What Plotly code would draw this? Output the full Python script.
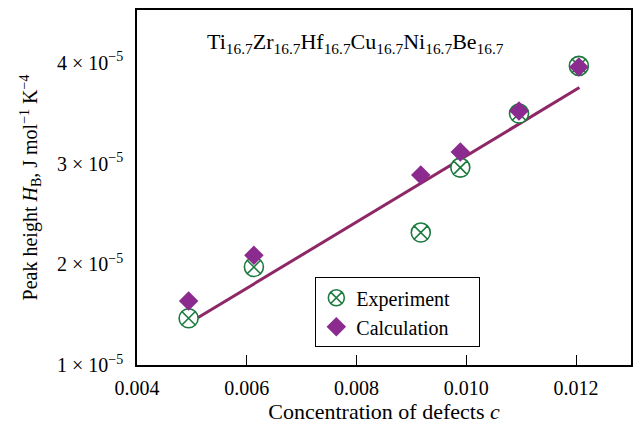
import plotly.graph_objects as go

# Concentration of defects c
c_exp = [0.00494, 0.00613, 0.00917, 0.00989, 0.01096, 0.01205]
h_exp = [1.464e-5, 1.973e-5, 2.315e-5, 2.960e-5, 3.497e-5, 3.970e-5]

c_calc = [0.00494, 0.00613, 0.00917, 0.00989, 0.01096, 0.01205]
h_calc = [1.636e-5, 2.089e-5, 2.887e-5, 3.115e-5, 3.523e-5, 3.960e-5]

# Linear fit line endpoints
c_fit = [0.00494, 0.01206]
h_fit = [1.414e-5, 3.755e-5]

y_ticks = [1e-5, 2e-5, 3e-5, 4e-5]
y_tick_text = ["1 × 10<sup>−5</sup>", "2 × 10<sup>−5</sup>",
               "3 × 10<sup>−5</sup>", "4 × 10<sup>−5</sup>"]
x_ticks = [0.004, 0.006, 0.008, 0.010, 0.012]
x_tick_text = ["0.004", "0.006", "0.008", "0.010", "0.012"]

FONT = "'Liberation Serif', 'Times New Roman', serif"
GREEN = "#1b7a3e"
PURPLE = "#8b2a8f"
LINE = "#8e2766"
PAD = "&nbsp;" * 5  # extra room on the right side of the legend box

fig = go.Figure()
fig.add_trace(go.Scatter(
    x=c_fit, y=h_fit, mode="lines", showlegend=False,
    line=dict(color=LINE, width=3),
))
fig.add_trace(go.Scatter(
    x=c_exp, y=h_exp, mode="markers", name="Experiment",
    marker=dict(symbol="circle-x", size=19, color="white",
                line=dict(color=GREEN, width=1.6)),
))
fig.add_trace(go.Scatter(
    x=c_calc, y=h_calc, mode="markers", name="Calculation" + PAD,
    marker=dict(symbol="diamond", size=15, color=PURPLE,
                line=dict(width=0)),
))

sub = "<sub>16.7</sub>"
title = f"Ti{sub}Zr{sub}Hf{sub}Cu{sub}Ni{sub}Be{sub}"
fig.add_annotation(
    x=0.00523, y=4.2e-5, xref="x", yref="y", text=title, showarrow=False,
    font=dict(family=FONT, size=22, color="black"),
    xanchor="left", yanchor="middle",
)

fig.update_layout(
    width=636, height=426,
    margin=dict(l=137, r=3, t=10, b=61),
    paper_bgcolor="white", plot_bgcolor="white",
    font=dict(family=FONT, size=20, color="black"),
    legend=dict(
        x=0.361, y=0.247, xanchor="left", yanchor="top",
        bordercolor="black", borderwidth=1, bgcolor="white",
        font=dict(family=FONT, size=20), tracegroupgap=0,
    ),
)
fig.update_xaxes(
    range=[0.004, 0.013], tickvals=x_ticks, ticktext=x_tick_text,
    ticks="inside", ticklen=10, tickwidth=1.3, tickcolor="black",
    showline=True, linecolor="black", linewidth=1.5, mirror=True,
    showgrid=False, zeroline=False, ticklabelstandoff=4,
    tickfont=dict(family=FONT, size=20),
    title=dict(text="Concentration of defects <i>c</i>",
               font=dict(family=FONT, size=22), standoff=6),
)
fig.update_yaxes(
    range=[1e-5, 4.525e-5], tickvals=y_ticks, ticktext=y_tick_text,
    ticks="", showline=True, linecolor="black", linewidth=1.5, mirror=True,
    showgrid=False, zeroline=False, ticklabelstandoff=8,
    tickfont=dict(family=FONT, size=20),
    title=dict(text="Peak height <i>H</i><sub>B</sub>, J mol<sup>−1</sup> K<sup>−4</sup>",
               font=dict(family=FONT, size=20), standoff=14),
)

fig.write_html("out.html")
